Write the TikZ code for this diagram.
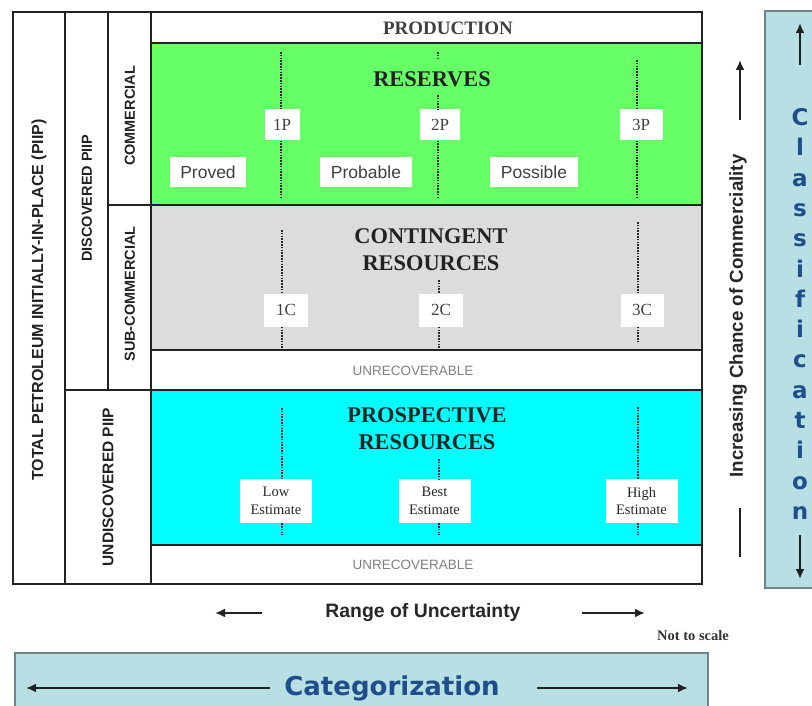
\documentclass[tikz,border=0pt]{standalone}
\usepackage{fontspec}
\setmainfont{Liberation Serif}
\setsansfont{Liberation Sans}
\newfontfamily\panelfont{DejaVu Sans}
\usetikzlibrary{arrows.meta}

\definecolor{ink}{HTML}{222222}
\definecolor{resgreen}{HTML}{66FF66}
\definecolor{contgray}{HTML}{DCDCDC}
\definecolor{prospcyan}{HTML}{00FFFF}
\definecolor{panelfill}{HTML}{B8E0E4}
\definecolor{paneledge}{HTML}{6E8486}
\definecolor{panelblue}{HTML}{1F4E8C}

\tikzset{
  grid/.style={draw=ink, line width=2.3pt},
  sidelabel/.style={rotate=90, text=ink, inner sep=0pt,
    font=\sffamily\bfseries\fontsize{14.5}{17}\selectfont},
  classhead/.style={text=ink, align=center, inner sep=0pt,
    font=\rmfamily\bfseries\fontsize{22.4}{27}\selectfont},
  tagbox/.style={fill=white, text=black!75, inner sep=0pt,
    minimum width=40pt, minimum height=31pt,
    font=\rmfamily\fontsize{17}{20}\selectfont},
  estbox/.style={fill=white, text=black!85, inner sep=0pt, align=center,
    minimum width=72pt, minimum height=44pt,
    font=\rmfamily\fontsize{14.5}{17.5}\selectfont},
  subbox/.style={fill=white, text=black!75, inner sep=0pt,
    minimum height=30pt, font=\sffamily\fontsize{17.5}{20}\selectfont},
  unrec/.style={text=black!50, inner sep=0pt,
    font=\sffamily\fontsize{13.5}{16}\selectfont},
  dotline/.style={draw=black!85, line width=2.6pt, dash pattern=on 1.6pt off 1.2pt},
  axislabel/.style={text=black!85, inner sep=0pt,
    font=\sffamily\bfseries\fontsize{18.7}{22}\selectfont},
  arr/.style={draw=ink, line width=2.7pt, -{Latex[length=10pt,width=9pt]}},
  panel/.style={fill=panelfill, draw=paneledge, line width=1.5pt},
  paneltext/.style={text=panelblue, inner sep=0pt,
    font=\panelfont\bfseries\fontsize{26}{30}\selectfont},
}

\begin{document}
\begin{tikzpicture}[x=1pt, y=-1pt]
\useasboundingbox (0,0) rectangle (812,706);
\clip (0,0) rectangle (812,706);

% ---- coloured resource classes ----
\fill[resgreen]  (151,43)  rectangle (702,205);
\fill[contgray]  (151,205) rectangle (702,350);
\fill[prospcyan] (151,390) rectangle (702,545);

% ---- frame and dividing lines ----
\draw[grid] (13,12) rectangle (702,584);
\draw[grid] (65,12) -- (65,584);
\draw[grid] (108,12) -- (108,390);
\draw[grid] (151,12) -- (151,584);
\draw[grid] (151,43) -- (702,43);
\draw[grid] (108,205) -- (702,205);
\draw[grid] (151,350) -- (702,350);
\draw[grid] (65,390) -- (702,390);
\draw[grid] (151,545) -- (702,545);

% ---- side labels ----
\node[sidelabel, font=\sffamily\bfseries\fontsize{16}{19}\selectfont] (piip) at (39,300) {TOTAL PETROLEUM INITIALLY-IN-PLACE (PIIP)};
\node[sidelabel] (disc) at (87,198) {DISCOVERED PIIP};
\node[sidelabel] (comm) at (130,116) {COMMERCIAL};
\node[sidelabel] (subc) at (130,294) {SUB-COMMERCIAL};
\node[sidelabel, font=\sffamily\bfseries\fontsize{15.5}{18}\selectfont] (undisc) at (108,487) {UNDISCOVERED PIIP};

% ---- class headings ----
\node[classhead, text=black!75, font=\rmfamily\bfseries\fontsize{19}{22}\selectfont] (prod) at (448,28) {PRODUCTION};
\node[classhead] (res) at (432,79) {RESERVES};
\node[classhead] (cont) at (431,250) {CONTINGENT\\RESOURCES};
\node[classhead] (prosp) at (427,429) {PROSPECTIVE\\RESOURCES};
\node[unrec] (unrecA) at (413,371) {UNRECOVERABLE};
\node[unrec] (unrecB) at (413,565) {UNRECOVERABLE};

% ---- reserves: cumulative levels and increments ----
\node[tagbox, minimum width=35pt] (p1) at (282,125) {1P};
\node[tagbox] (p2) at (440,125) {2P};
\node[tagbox, minimum width=43pt] (p3) at (641,125) {3P};
\node[subbox, minimum width=76pt] (proved) at (208,172) {Proved};
\node[subbox, minimum width=92pt] (probable) at (366,172) {Probable};
\node[subbox, minimum width=88pt] (possible) at (534,172) {Possible};

\coordinate (p1top) at (281,52);   \coordinate (p1bot) at (281,198);
\coordinate (p2top) at (438,52);   \coordinate (p2cut) at (438,60);
\coordinate (p2mid) at (438,95);   \coordinate (p2bot) at (438,198);
\coordinate (p3top) at (637,60);   \coordinate (p3bot) at (637,198);
\draw[dotline] (p1top) -- (p1top |- p1.north);  \draw[dotline] (p1bot |- p1.south) -- (p1bot);
\draw[dotline] (p2top) -- (p2cut);     \draw[dotline] (p2mid) -- (p2mid |- p2.north);
\draw[dotline] (p2bot |- p2.south) -- (p2bot);
\draw[dotline] (p3top) -- (p3top |- p3.north);  \draw[dotline] (p3bot |- p3.south) -- (p3bot);

% ---- contingent resources ----
\node[tagbox, minimum width=44pt, minimum height=33pt] (c1) at (286,310) {1C};
\node[tagbox, minimum width=44pt, minimum height=33pt] (c2) at (441,310) {2C};
\node[tagbox, minimum width=43pt, minimum height=33pt] (c3) at (642,310) {3C};
\coordinate (c1top) at (282,230);  \coordinate (c1bot) at (282,348);
\coordinate (c2top) at (439,280);  \coordinate (c2bot) at (439,348);
\coordinate (c3top) at (638,222);  \coordinate (c3bot) at (638,343);
\draw[dotline] (c1top) -- (c1top |- c1.north);  \draw[dotline] (c1bot |- c1.south) -- (c1bot);
\draw[dotline] (c2top) -- (c2top |- c2.north);  \draw[dotline] (c2bot |- c2.south) -- (c2bot);
\draw[dotline] (c3top) -- (c3top |- c3.north);  \draw[dotline] (c3bot |- c3.south) -- (c3bot);

% ---- prospective resources ----
\node[estbox] (low)  at (276,501) {Low\\Estimate};
\node[estbox] (best) at (434.5,501) {Best\\Estimate};
\node[estbox] (high) at (641.5,501) {High\\Estimate};
\coordinate (lowtop)  at (282,408); \coordinate (lowbot)  at (282,535);
\coordinate (besttop) at (439,459); \coordinate (bestbot) at (439,535);
\coordinate (hightop) at (638,407); \coordinate (highbot) at (638,535);
\draw[dotline] (lowtop) -- (lowtop |- low.north);    \draw[dotline] (lowbot |- low.south) -- (lowbot);
\draw[dotline] (besttop) -- (besttop |- best.north); \draw[dotline] (bestbot |- best.south) -- (bestbot);
\draw[dotline] (hightop) -- (hightop |- high.north); \draw[dotline] (highbot |- high.south) -- (highbot);

% ---- commerciality axis ----
\node[axislabel, rotate=90] (chance) at (738,316) {Increasing Chance of Commerciality};
\coordinate (chancestart) at (740,120);
\coordinate (chanceup) at (740,60);
\coordinate (chancelow) at (740,508);
\coordinate (chancelowend) at (740,557);
\draw[arr] (chancestart) -- (chanceup);
\draw[draw=ink, line width=2.7pt] (chancelow) -- (chancelowend);

% ---- uncertainty axis ----
\node[axislabel, font=\sffamily\bfseries\fontsize{19.4}{23}\selectfont] (range) at (423,613) {Range of Uncertainty};
\coordinate (rangeL0) at (262,613); \coordinate (rangeL) at (215,613);
\coordinate (rangeR0) at (582,613); \coordinate (rangeR) at (645,613);
\draw[arr] (rangeL0) -- (rangeL);
\draw[arr] (rangeR0) -- (rangeR);
\node[text=black!80, inner sep=0pt, font=\rmfamily\bfseries\fontsize{14.5}{18}\selectfont] (scale) at (693,636) {Not to scale};

% ---- classification panel ----
\draw[panel] (765,11) rectangle (840,588);
\node[paneltext, align=center, font=\panelfont\bfseries\fontsize{23}{30.3}\selectfont] (classif) at (800,314)
  {C\\l\\a\\s\\s\\i\\f\\i\\c\\a\\t\\i\\o\\n};
\coordinate (clsupA) at (800,65);  \coordinate (clsupB) at (800,23);
\coordinate (clsdnA) at (800,535); \coordinate (clsdnB) at (800,579);
\draw[arr] (clsupA) -- (clsupB);
\draw[arr] (clsdnA) -- (clsdnB);

% ---- categorization panel ----
\draw[panel] (15,653) rectangle (708,730);
\node[paneltext] (categ) at (392,688) {Categorization};
\coordinate (catLA) at (270,688); \coordinate (catLB) at (26,688);
\coordinate (catRA) at (537,688); \coordinate (catRB) at (688,688);
\draw[arr] (catLA) -- (catLB);
\draw[arr] (catRA) -- (catRB);
\end{tikzpicture}
\end{document}
